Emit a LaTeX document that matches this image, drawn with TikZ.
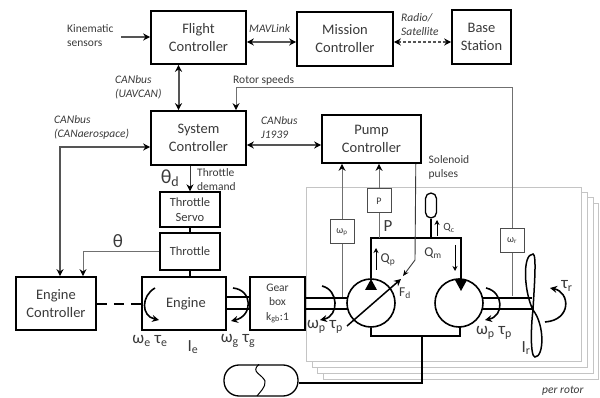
\documentclass[tikz,border=0pt]{standalone}
\usepackage{fontspec}
\setmainfont{Carlito}
\usepackage{xcolor}
\usepackage{tikz}
\usetikzlibrary{arrows.meta,positioning,calc}
\definecolor{inkgray}{HTML}{3A3A3A}
\definecolor{busgray}{HTML}{555555}
\definecolor{wiregray}{HTML}{707070}
\definecolor{framegray}{HTML}{C4C4C4}
\begin{document}
\begin{tikzpicture}[
    x=1pt,
    y=-1pt,
    >={Stealth[length=7pt,width=7pt,color=black]},
    every node/.style={text=inkgray,inner sep=0pt},
    ctrl/.style={
        draw=black,
        rectangle,
        line width=1.6pt,
        fill=white,
        align=center,
        font=\fontsize{14.5}{18}\selectfont
    },
    smallctrl/.style={
        draw=black,
        rectangle,
        line width=1.4pt,
        fill=white,
        align=center,
        font=\fontsize{12.5}{15}\selectfont
    },
    sensor/.style={
        draw=black!70,
        rectangle,
        line width=1pt,
        fill=white,
        minimum width=24pt,
        minimum height=24pt,
        font=\fontsize{10}{11}\selectfont
    },
    perrotor/.style={draw=framegray,line width=0.9pt,fill=white},
    note/.style={align=left,font=\fontsize{11.5}{14}\selectfont},
    busnote/.style={align=left,font=\itshape\fontsize{11.5}{14}\selectfont},
    bus/.style={draw=busgray,line width=2pt,<->},
    wire/.style={draw=wiregray,line width=1pt},
    pipe/.style={draw=black,line width=1.6pt},
    flowarrow/.style={draw=black,line width=1pt,->,>={Stealth[length=5pt,width=5pt]}},
    turn/.style={draw=black,line width=1.6pt,->},
    symbol/.style={font=\fontsize{17}{17}\selectfont},
    symbolsmall/.style={font=\fontsize{13.5}{13.5}\selectfont}
]
\useasboundingbox (0,0) rectangle (600,398);

% rotor frames, back to front
\draw[perrotor] (323,203) rectangle (598,379);
\draw[perrotor] (317,197) rectangle (593,373);
\draw[perrotor] (312,192) rectangle (587,367);
\draw[perrotor] (306,187) rectangle (581,361);

% controllers
\node[ctrl, minimum width=95pt, minimum height=53pt] (flight) at (198.5,37.5) {Flight\\Controller};
\node[ctrl, minimum width=96pt, minimum height=54pt] (mission) at (345,39) {Mission\\Controller};
\node[ctrl, minimum width=59pt, minimum height=54pt] (base) at (481.5,37) {Base\\Station};
\node[ctrl, minimum width=95pt, minimum height=54pt] (system) at (198.5,138) {System\\Controller};
\node[ctrl, minimum width=99pt, minimum height=48pt] (pump) at (371.5,139) {Pump\\Controller};

% engine line
\node[smallctrl, minimum width=60pt, minimum height=35pt] (servo) at (190,209.5) {Throttle\\Servo};
\node[smallctrl, minimum width=60pt, minimum height=37pt] (throttle) at (190,251.5) {Throttle};
\node[ctrl, minimum width=80pt, minimum height=53pt] (enginectrl) at (56,303.5) {Engine\\Controller};
\node[ctrl, minimum width=84pt, minimum height=53pt] (engine) at (184,303.5) {\hspace*{4pt}Engine};
\node[smallctrl, minimum width=55pt, minimum height=53pt, font=\fontsize{11.5}{14.5}\selectfont] (gearbox) at (277.5,303.5) {Gear\\box\\k\textsubscript{gb}:1};

% sensors
\node[sensor] (omegapump) at (342,232) {ω\textsubscript{p}};
\node[sensor] (pressure) at (379,201) {P};
\node[sensor] (omegarotor) at (512,240.5) {ω\textsubscript{r}};

% hydraulics
\node[draw=black, line width=1.6pt, circle, minimum size=48pt] (pumpunit) at (371,303) {};
\node[draw=black, line width=1.6pt, circle, minimum size=48pt] (motorunit) at (459,303) {};
\node[draw=black, line width=1.3pt, rectangle, rounded corners=5.5pt, minimum width=11pt, minimum height=25pt] (accum) at (431,205.5) {};
\node[draw=black, line width=1.3pt, rectangle, rounded corners=15pt, minimum width=74pt, minimum height=31pt] (tank) at (261,380.5) {};
\draw[black, line width=1pt] (tank.north) ++(-2,0) .. controls (250,372) and (262,374) .. (265,381) .. controls (266,387) and (260,392) .. (257,396);

\coordinate (looptl) at (371,238);
\coordinate (looptr) at (461,238);
\coordinate (loopbl) at (371,336);
\coordinate (loopbr) at (460,336);
\draw[pipe] (pumpunit.north) -- (looptl) -- (looptr) -- (461,279);
\draw[pipe] (pumpunit.south) -- (loopbl) -- (loopbr) -- (460,327);
\draw[pipe] (accum.south) -- (accum.south |- looptl);
\coordinate (drain) at (422,336);
\draw[pipe] (drain) -- (422,383) -- (tank.east |- 0,383);
\fill[black] (371,279) -- (377,290) -- (365,290) -- cycle;
\fill[black] (461,291) -- (467,280) -- (455,280) -- cycle;

% shafts
\draw[pipe] (engine.east |- 0,297) -- (gearbox.west |- 0,297);
\draw[pipe] (engine.east |- 0,309) -- (gearbox.west |- 0,309);
\draw[pipe] (gearbox.east |- 0,298) -- (348,298);
\draw[pipe] (gearbox.east |- 0,309) -- (348,309);
\draw[pipe] (482,298) -- (532,298);
\draw[pipe] (482,309) -- (532,309);

% rotor blade
\coordinate (hub) at (533,310);
\draw[black, line width=1.5pt] (hub) .. controls (524,292) and (522,254) .. (533,254) .. controls (537,254) and (534,290) .. (hub);
\draw[black, line width=1.5pt] (hub) .. controls (545,325) and (544,357) .. (535,357) .. controls (530,357) and (531,325) .. (hub);

% swash arrow and solenoid
\draw[black, line width=1.5pt, ->] (347,326) -- (401,279);
\draw[draw=inkgray, line width=0.9pt, ->, >={Stealth[length=6pt,width=5pt,color=black]}] ([xshift=-6pt]pump.south east) -- (415,260) -- (403,276);

% buses
\draw[draw=busgray, line width=2pt, ->] (121,37) -- (flight.west |- 0,37);
\draw[bus] (flight.east |- 0,42) -- (mission.west |- 0,42);
\draw[draw=busgray, line width=2pt, dash pattern=on 2.5pt off 2.5pt, <->] (mission.east |- 0,42) -- (base.west |- 0,42);
\draw[bus] ([xshift=-20pt]flight.south) -- ([xshift=-20pt]system.north);
\draw[bus] (system.east |- 0,145) -- (pump.west |- 0,145);
\draw[draw=busgray, line width=2pt, <->] (system.west |- 0,147) -- (60,147) -- (enginectrl.north -| 60,0);
\draw[draw=black, line width=2pt, dash pattern=on 10pt off 7pt] (enginectrl.east) -- (engine.west);

% signals
\draw[wire, ->] (omegarotor.north) -- (omegarotor.north |- 0,88) -- (236,88) -- (system.north -| 236,0);
\draw[wire] (omegarotor.south) -- (512,296);
\draw[wire, ->] (omegapump.north) -- (pump.south -| 342,0);
\draw[wire] (omegapump.south) -- (342,297);
\draw[wire, ->] (pressure.north) -- (pressure.north |- pump.south);
\draw[wire] (pressure.south) -- (pressure.south |- looptl);
\draw[draw=inkgray, line width=1pt, ->] (servo.north |- system.south) -- (servo.north);
\draw[draw=black, line width=1.6pt] (servo) -- (throttle);
\draw[draw=black, line width=1.6pt] (throttle) -- (throttle.south |- engine.north);
\draw[wire, ->] (throttle.west |- 0,252) -- (83,252) -- (enginectrl.north -| 83,0);

% flow arrows
\draw[flowarrow] (376,270) -- (376,248);
\draw[flowarrow] (455,245) -- (455,271);
\draw[flowarrow] (437,236) -- (437,220);

% rotation arrows
\draw[turn] (155,288) .. controls (141,296) and (141,316) .. (159,320);
\draw[turn] (233,288) .. controls (253,290) and (253,316) .. (231,321);
\draw[turn] (322,286) .. controls (339,290) and (339,316) .. (320,320);
\draw[turn] (486,288) .. controls (504,292) and (504,316) .. (485,320);
\draw[turn] (545,322) .. controls (572,320) and (570,292) .. (550,288);

% labels
\node[note, anchor=west] (kinematic) at (67,36) {Kinematic\\sensors};
\node[busnote, anchor=west] (mavlink) at (249,29) {MAVLink};
\node[busnote, anchor=west] (radio) at (401,25) {Radio/\\Satellite};
\node[busnote, anchor=west] (uavcan) at (115,87) {CANbus\\(UAVCAN)};
\node[note, anchor=west] (rotorspeeds) at (233,80) {Rotor speeds};
\node[busnote, anchor=west] (canaero) at (54,127) {CANbus\\(CANaerospace)};
\node[busnote, anchor=west] (jcan) at (261,128) {CANbus\\J1939};
\node[note, anchor=west] (demand) at (197,180) {Throttle\\demand};
\node[note, anchor=west] (solenoid) at (428.5,167) {Solenoid\\pulses};
\node[busnote, anchor=west] (perlabel) at (542,391) {per rotor};

\node[symbol, font=\fontsize{20}{20}\selectfont] (thetad) at (170,178) {θ\textsubscript{d}};
\node[symbol, font=\fontsize{19}{19}\selectfont] (theta) at (118,241) {θ};
\node[symbol] (omegae) at (150,341) {ω\textsubscript{e} τ\textsubscript{e}};
\node[symbol] (ie) at (193,347) {I\textsubscript{e}};
\node[symbol] (omegag) at (238,341) {ω\textsubscript{g} τ\textsubscript{g}};
\node[symbol] (omegapl) at (325,327) {ω\textsubscript{p} τ\textsubscript{p}};
\node[symbol] (omegapr) at (494,333) {ω\textsubscript{p} τ\textsubscript{p}};
\node[symbol] (ir) at (526,348) {I\textsubscript{r}};
\node[symbol] (taur) at (567,286) {τ\textsubscript{r}};
\node[symbol] (plabel) at (388,226) {P};
\node[symbolsmall] (qp) at (388,260) {Q\textsubscript{p}};
\node[symbolsmall] (qm) at (433,253) {Q\textsubscript{m}};
\node[font=\fontsize{11}{11}\selectfont] (qc) at (449,228) {Q\textsubscript{c}};
\node[symbolsmall] (fd) at (405,293) {F\textsubscript{d}};

\end{tikzpicture}
\end{document}
